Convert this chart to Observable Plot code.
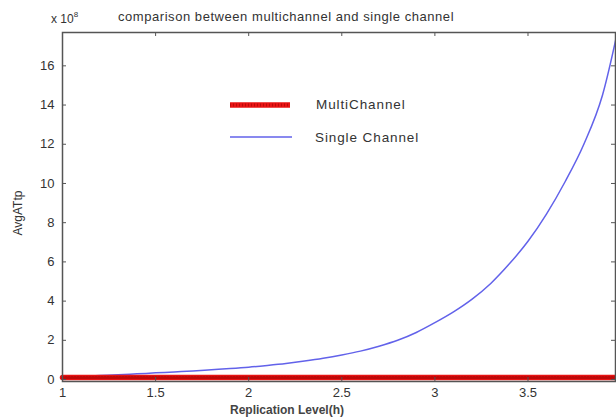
<!DOCTYPE html>
<html>
<head>
<meta charset="utf-8">
<script src="https://cdn.jsdelivr.net/npm/d3@7"></script>
<script src="https://cdn.jsdelivr.net/npm/@observablehq/plot@0.6"></script>
<style>
  html, body { margin: 0; padding: 0; background: #fff; }
  #wrap { position: relative; width: 616px; height: 420px; font-family: "Liberation Sans", Arial, sans-serif; color: #333; overflow: hidden; }
  #wrap svg.plot { position: absolute; left: 0; top: 0; }
  .ov { position: absolute; white-space: nowrap; line-height: 1; }
</style>
</head>
<body>
<div id="wrap"></div>
<script>
// ---- data, y in units of 10^8 ----
const levels = [1.0, 1.1, 1.2, 1.3, 1.4, 1.5, 1.6, 1.7, 1.8, 1.9, 2.0, 2.1, 2.2, 2.3, 2.4, 2.5, 2.6, 2.7, 2.8, 2.9, 3.0, 3.1, 3.2, 3.3, 3.4, 3.5, 3.6, 3.7, 3.8, 3.9, 4.0];
const singleChannel = [0.12, 0.16, 0.2, 0.24, 0.29, 0.34, 0.39, 0.44, 0.5, 0.56, 0.63, 0.72, 0.82, 0.94, 1.08, 1.25, 1.45, 1.7, 2.0, 2.4, 2.9, 3.45, 4.1, 4.9, 5.9, 7.05, 8.45, 10.1, 12.0, 14.5, 18.6];
const multiChannel = [0.1, 0.1, 0.1, 0.1, 0.1, 0.1, 0.1, 0.1, 0.1, 0.1, 0.1, 0.1, 0.1, 0.1, 0.1, 0.1, 0.1, 0.1, 0.1, 0.1, 0.1, 0.1, 0.1, 0.1, 0.1, 0.1, 0.1, 0.1, 0.1, 0.1, 0.1];
const xTicks = [1, 1.5, 2, 2.5, 3, 3.5];
const yTicks = [0, 2, 4, 6, 8, 10, 12, 14, 16];
const seriesNames = ["MultiChannel", "Single Channel"];
const titleText = "comparison between multichannel and single channel";
const xLabel = "Replication Level(h)";
const yLabel = "AvgATtp";

const single = levels.map((x, i) => ({x, y: singleChannel[i]}));
const multi = levels.map((x, i) => ({x, y: multiChannel[i]}));

const W = 616, H = 420, mL = 62, mR = 1, mT = 32, mB = 39;
const pw = W - mL - mR, ph = H - mT - mB;
const frameColor = "#555";
const blue = "#6262ea";
const red = "#e81414";

const chart = Plot.plot({
  width: W, height: H,
  marginLeft: mL, marginRight: mR, marginTop: mT, marginBottom: mB,
  style: {background: "#fff", fontFamily: "Liberation Sans, Arial, sans-serif", fontSize: "13px", color: "#333", overflow: "hidden"},
  x: {domain: [1, 3.97]},
  y: {domain: [-0.1, 17.7]},
  marks: [
    Plot.line(single, {x: "x", y: "y", stroke: blue, strokeWidth: 1.5, curve: "monotone-x"}),
    Plot.line(multi, {x: "x", y: "y", stroke: red, strokeWidth: 5.5}),
    Plot.line(multi, {x: "x", y: "y", stroke: "#9a0000", strokeWidth: 3, strokeDasharray: "1 2", strokeOpacity: 0.55}),
    Plot.frame({stroke: frameColor, strokeWidth: 1.5}),
    Plot.tickX(xTicks, {x: d => d, insetTop: ph - 4, stroke: frameColor}),
    Plot.tickX(xTicks, {x: d => d, insetBottom: ph - 4, stroke: frameColor}),
    Plot.tickY(yTicks, {y: d => d, insetRight: pw - 4, stroke: frameColor}),
    Plot.tickY(yTicks, {y: d => d, insetLeft: pw - 4, stroke: frameColor}),
    Plot.axisX({ticks: xTicks, tickSize: 0, tickPadding: 6, label: null, color: "#333", tickFormat: d => String(d)}),
    Plot.axisY({ticks: yTicks, tickSize: 0, tickPadding: 8, label: null, color: "#333", tickFormat: d => String(d)})
  ]
});
chart.classList.add("plot");
const wrap = document.getElementById("wrap");
wrap.appendChild(chart);

function ov(html, css) {
  const d = document.createElement("div");
  d.className = "ov";
  d.innerHTML = html;
  Object.assign(d.style, css);
  wrap.appendChild(d);
  return d;
}
ov(titleText, {left: "118px", top: "10px", fontSize: "13px", color: "#333", letterSpacing: "0.55px"});
ov('x 10<sup style="font-size:8px;vertical-align:6px">8</sup>', {left: "51px", top: "11px", fontSize: "12px", color: "#333"});
ov(xLabel, {left: "287px", top: "404px", transform: "translateX(-50%)", fontSize: "12px", fontWeight: "bold", color: "#444"});
ov(yLabel, {left: "18px", top: "213px", transform: "translate(-50%,-50%) rotate(-90deg)", fontSize: "12px", color: "#333"});

// legend
const legend = document.createElementNS("http://www.w3.org/2000/svg", "svg");
legend.setAttribute("width", 70); legend.setAttribute("height", 50);
legend.style.position = "absolute"; legend.style.left = "226px"; legend.style.top = "95px";
legend.innerHTML = `
  <line x1="4" x2="64" y1="10" y2="10" stroke="${red}" stroke-width="5.5"/>
  <line x1="4" x2="64" y1="10" y2="10" stroke="#9a0000" stroke-width="3" stroke-dasharray="1 2" stroke-opacity="0.55"/>
  <line x1="4" x2="66" y1="42" y2="42" stroke="${blue}" stroke-width="1.5"/>`;
wrap.appendChild(legend);
ov(seriesNames[0], {left: "316px", top: "98px", fontSize: "13.5px", color: "#333", letterSpacing: "0.9px"});
ov(seriesNames[1], {left: "315px", top: "131px", fontSize: "13.5px", color: "#333", letterSpacing: "0.9px"});
</script>
</body>
</html>
